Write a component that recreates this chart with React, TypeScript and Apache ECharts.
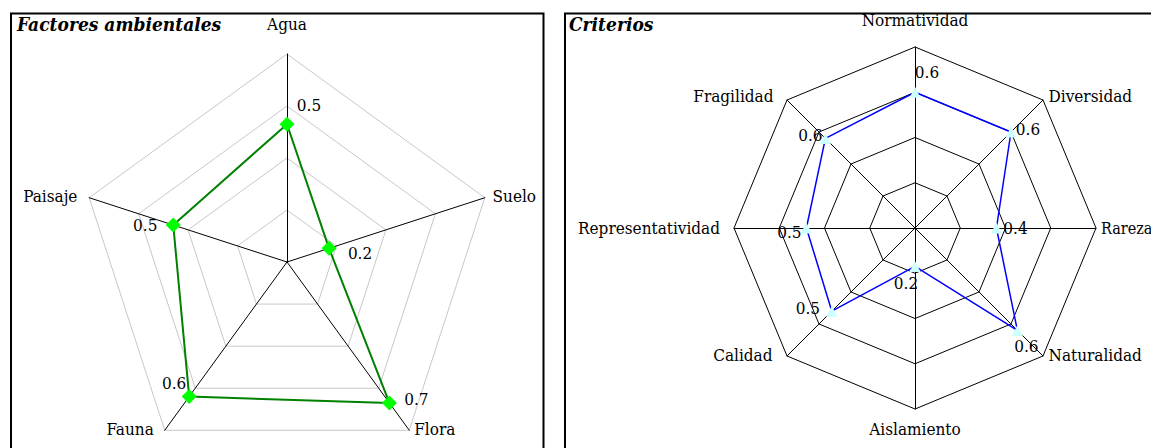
import { useEffect, useRef } from 'react';
import * as echarts from 'echarts';

// ---- data (indicators listed clockwise starting at the top) ----
const factorCategories = ['Agua', 'Suelo', 'Flora', 'Fauna', 'Paisaje'];
const factorValues = [0.53, 0.17, 0.67, 0.64, 0.46];
const factorMax = 0.8;

const criteriaCategories = [
  'Normatividad',
  'Diversidad',
  'Rareza',
  'Naturalidad',
  'Aislamiento',
  'Calidad',
  'Representatividad',
  'Fragilidad',
];
const criteriaValues = [0.6, 0.6, 0.36, 0.64, 0.17, 0.52, 0.48, 0.56];
const criteriaMax = 0.8;

const titles = ['Factores ambientales', 'Criterios'];

// ---- styling: value-label offsets relative to their point (clockwise order) ----
const factorLabelOffsets: number[][] = [[22, -19], [31, 5], [27, -4], [-15, -14], [-28, 0]];
const criteriaLabelOffsets: number[][] = [
  [12, -20], [17, -3], [19, 0], [9, 16], [-9, 17], [-24, -3], [-17, 4], [-15, -3],
];
// extra padding [top, right, bottom, left] for axis names (base name gap is 5)
const namePadding: Record<string, number[]> = {
  Agua: [0, 0, 17, 0],
  Suelo: [0, 0, 0, 3],
  Flora: [0, 0, 10, 2],
  Fauna: [0, 8, 10, 0],
  Paisaje: [0, 7, 0, 0],
  Normatividad: [0, 0, 14, 0],
  Diversidad: [0, 0, 0, 2],
  Rareza: [0, 0, 0, 0],
  Naturalidad: [0, 0, 10, 2],
  Aislamiento: [6, 0, 0, 0],
  Calidad: [0, 11, 10, 0],
  Representatividad: [0, 9, 0, 0],
  Fragilidad: [0, 10, 0, 0],
};
const nameSize: Record<string, number> = { Rareza: 16 };

const SERIF = "'DejaVu Serif Condensed', 'DejaVu Serif', serif";
const FS = 17;

// ECharts places radar indicators counter-clockwise; reorder so they read clockwise.
function ccw<T>(arr: T[]): T[] {
  return [arr[0], ...arr.slice(1).reverse()];
}

function nameStyle(categories: string[]) {
  const rich: Record<string, any> = {};
  categories.forEach((c, i) => {
    rich['n' + i] = {
      color: '#000',
      fontFamily: SERIF,
      fontSize: nameSize[c] || FS,
      padding: namePadding[c] || [0, 0, 0, 0],
    };
  });
  return {
    color: '#000',
    fontFamily: SERIF,
    fontSize: FS,
    formatter: (name: string) => `{n${categories.indexOf(name)}|${name}}`,
    rich,
  };
}

function labelSeries(radarIndex: number, values: number[], offsets: number[][]) {
  const data = values.map((v, k) => {
    const arr: (number | string)[] = values.map(() => '-');
    arr[k] = v;
    return {
      value: ccw(arr),
      label: {
        show: true,
        position: 'inside',
        offset: offsets[k],
        color: '#000',
        fontFamily: SERIF,
        fontSize: FS,
        formatter: (p: any) =>
          typeof p.value === 'number' && !isNaN(p.value) ? p.value.toFixed(1) : '',
      },
    };
  });
  return {
    type: 'radar',
    radarIndex,
    silent: true,
    z: 5,
    symbol: 'circle',
    symbolSize: 1,
    itemStyle: { color: 'transparent' },
    lineStyle: { width: 0, opacity: 0 },
    data,
  };
}

export default function App() {
  const ref = useRef<HTMLDivElement>(null);

  useEffect(() => {
    if (!ref.current) return;
    const chart = echarts.init(ref.current, undefined, { renderer: 'svg' });

    const titleStyle = {
      fontFamily: SERIF,
      fontSize: 19,
      fontWeight: 'bold',
      fontStyle: 'italic',
      color: '#000',
    };

    const option: any = {
      animation: false,
      backgroundColor: '#fff',
      title: [
        { text: titles[0], left: 9, top: 6, padding: 0, textStyle: titleStyle },
        { text: titles[1], left: 561, top: 6, padding: 0, textStyle: titleStyle },
      ],
      graphic: [
        {
          type: 'rect',
          shape: { x: 3, y: 5.5, width: 532.5, height: 600 },
          style: { fill: 'none', stroke: '#000', lineWidth: 2 },
          z: -1,
        },
        {
          type: 'rect',
          shape: { x: 557, y: 5.5, width: 700, height: 600 },
          style: { fill: 'none', stroke: '#000', lineWidth: 2 },
          z: -1,
        },
      ],
      radar: [
        {
          center: [279, 254],
          radius: 208,
          startAngle: 90,
          splitNumber: 4,
          shape: 'polygon',
          nameGap: 5,
          indicator: ccw(factorCategories).map((name) => ({ name, min: 0, max: factorMax })),
          axisName: nameStyle(factorCategories),
          axisLine: { lineStyle: { color: '#000', width: 1 } },
          splitLine: { lineStyle: { color: '#c8c8c8', width: 1 } },
          splitArea: { show: false },
          axisTick: { show: false },
          axisLabel: { show: false },
        },
        {
          center: [907, 220],
          radius: 181,
          startAngle: 90,
          splitNumber: 4,
          shape: 'polygon',
          nameGap: 5,
          indicator: ccw(criteriaCategories).map((name) => ({ name, min: 0, max: criteriaMax })),
          axisName: nameStyle(criteriaCategories),
          axisLine: { lineStyle: { color: '#000', width: 1 } },
          splitLine: { lineStyle: { color: '#000', width: 1 } },
          splitArea: { show: false },
          axisTick: { show: false },
          axisLabel: { show: false },
        },
      ],
      series: [
        {
          type: 'radar',
          radarIndex: 0,
          symbol: 'diamond',
          symbolSize: 15,
          itemStyle: { color: '#00ff00' },
          lineStyle: { color: '#008000', width: 2 },
          label: { show: false },
          data: [{ value: ccw(factorValues), name: titles[0] }],
        },
        labelSeries(0, factorValues, factorLabelOffsets),
        {
          type: 'radar',
          radarIndex: 1,
          symbol: 'triangle',
          symbolSize: 11,
          itemStyle: { color: '#ccffff' },
          lineStyle: { color: '#0000ff', width: 1.5 },
          label: { show: false },
          data: [{ value: ccw(criteriaValues), name: titles[1] }],
        },
        labelSeries(1, criteriaValues, criteriaLabelOffsets),
      ],
    };

    chart.setOption(option);
    return () => chart.dispose();
  }, []);

  return <div ref={ref} style={{ width: 1143, height: 440 }} />;
}
